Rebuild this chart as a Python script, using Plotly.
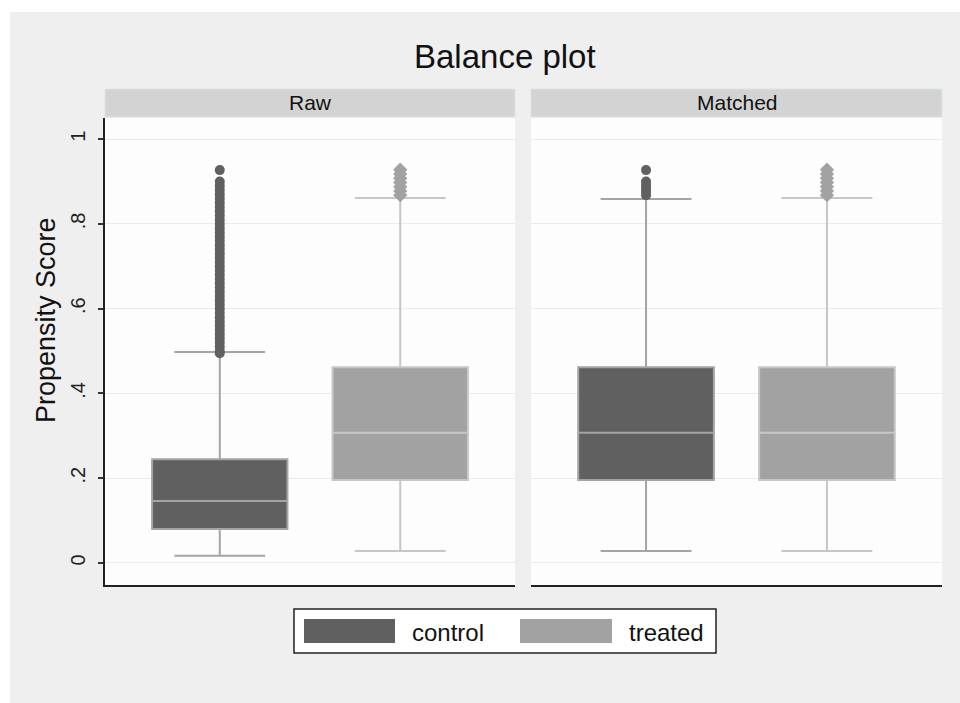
import plotly.graph_objects as go

# ---------------- data ----------------
groups = ["control", "treated"]
panels = ["Raw", "Matched"]

raw_lower = [0.017, 0.028]
raw_q1 = [0.080, 0.196]
raw_median = [0.146, 0.307]
raw_q3 = [0.245, 0.462]
raw_upper = [0.498, 0.861]

matched_lower = [0.028, 0.028]
matched_q1 = [0.196, 0.196]
matched_median = [0.307, 0.307]
matched_q3 = [0.462, 0.462]
matched_upper = [0.859, 0.861]

raw_control_out = [0.495, 0.50, 0.51, 0.52, 0.53, 0.54, 0.55, 0.56, 0.57, 0.58, 0.59,
                   0.60, 0.61, 0.62, 0.63, 0.64, 0.65, 0.66, 0.67, 0.68, 0.69,
                   0.70, 0.71, 0.72, 0.73, 0.74, 0.75, 0.76, 0.77, 0.78, 0.79,
                   0.80, 0.81, 0.82, 0.83, 0.84, 0.85, 0.86, 0.87, 0.88, 0.89,
                   0.90, 0.927]
raw_treated_out = [0.868, 0.878, 0.888, 0.898, 0.908, 0.918, 0.928]
matched_control_out = [0.868, 0.876, 0.884, 0.892, 0.900, 0.927]
matched_treated_out = [0.868, 0.878, 0.888, 0.898, 0.908, 0.918, 0.928]

y_ticks = [0, 0.2, 0.4, 0.6, 0.8, 1]
y_ticklabels = ["0", ".2", ".4", ".6", ".8", "1"]

# ---------------- styling ----------------
fill_colors = ["#606060", "#a2a2a2"]
line_colors = ["#a4a4a4", "#c6c6c6"]
out_colors = ["#606060", "#a2a2a2"]
out_symbols = ["circle", "diamond"]
FONT = "Liberation Sans, Arial, Helvetica, sans-serif"

W, H = 960, 703
# target page pixel positions of the plotting area
PL, PR, PT, PB = 105, 942, 118, 585
ML = PL
MR = W - PR
MT = PT
MB = H - PB
PW = W - ML - MR
PH = H - MT - MB


def px_x(px):
    return (px - PL) / PW


def px_y(py):
    return (PB - py) / PH


fig = go.Figure()

stats = {
    "Raw": (raw_lower, raw_q1, raw_median, raw_q3, raw_upper, [raw_control_out, raw_treated_out]),
    "Matched": (matched_lower, matched_q1, matched_median, matched_q3, matched_upper,
                [matched_control_out, matched_treated_out]),
}

for pi, panel in enumerate(panels):
    lo, q1, med, q3, up, outs = stats[panel]
    xa = "x" if pi == 0 else "x2"
    ya = "y" if pi == 0 else "y2"
    for gi, g in enumerate(groups):
        fig.add_trace(go.Box(
            x=[gi], lowerfence=[lo[gi]], q1=[q1[gi]], median=[med[gi]], q3=[q3[gi]],
            upperfence=[up[gi]], width=0.75, whiskerwidth=0.67,
            fillcolor=fill_colors[gi], line=dict(color=line_colors[gi], width=2),
            name=g, showlegend=False, boxpoints=False, xaxis=xa, yaxis=ya,
        ))
        fig.add_trace(go.Scatter(
            x=[gi] * len(outs[gi]), y=outs[gi], mode="markers",
            marker=dict(symbol=out_symbols[gi], size=10 if gi == 0 else 11,
                        color=out_colors[gi], line=dict(width=0)),
            showlegend=False, xaxis=xa, yaxis=ya, name=g,
        ))

xrange = [-0.636, 1.636]
yrange = [-0.052, 1.05]

common_x = dict(range=xrange, showticklabels=False, showgrid=False, zeroline=False,
                showline=True, linecolor="#222222", linewidth=1.5, ticks="", fixedrange=True)
fig.update_layout(
    xaxis=dict(domain=[0, (515 - PL) / PW], **common_x),
    xaxis2=dict(domain=[(531 - PL) / PW, 1], **common_x),
    yaxis=dict(range=yrange, tickvals=y_ticks, ticktext=y_ticklabels, tickangle=-90,
               ticks="outside", ticklen=5, tickwidth=1.5, tickcolor="#333333",
               showline=True, linecolor="#222222", linewidth=1.5,
               showgrid=True, gridcolor="#ebebeb", gridwidth=1, zeroline=False,
               tickfont=dict(family=FONT, size=20, color="#222222"),
               ticklabelstandoff=5),
    yaxis2=dict(range=yrange, tickvals=y_ticks, showticklabels=False, ticks="",
                showline=False, showgrid=True, gridcolor="#ebebeb", gridwidth=1,
                zeroline=False, anchor="x2", matches="y"),
)

shapes = []
# white outer margins (left and top strips)
shapes.append(dict(type="rect", xref="paper", yref="paper", x0=px_x(-20), x1=px_x(10),
                   y0=px_y(H + 20), y1=px_y(-20), fillcolor="white", line=dict(width=0),
                   layer="below"))
shapes.append(dict(type="rect", xref="paper", yref="paper", x0=px_x(-20), x1=px_x(W + 20),
                   y0=px_y(12), y1=px_y(-20), fillcolor="white", line=dict(width=0),
                   layer="below"))
# strip headers
for (x0, x1) in [(105, 515), (531, 942)]:
    shapes.append(dict(type="rect", xref="paper", yref="paper", x0=px_x(x0), x1=px_x(x1),
                       y0=px_y(117), y1=px_y(89), fillcolor="#d3d3d3",
                       line=dict(color="#d8e6ea", width=1)))
# legend box
shapes.append(dict(type="rect", xref="paper", yref="paper", x0=px_x(294), x1=px_x(716),
                   y0=px_y(653), y1=px_y(609), fillcolor="white",
                   line=dict(color="#222222", width=1.5)))
for gi, (sx0, sx1) in enumerate([(304, 395), (520, 612)]):
    shapes.append(dict(type="rect", xref="paper", yref="paper", x0=px_x(sx0), x1=px_x(sx1),
                       y0=px_y(643), y1=px_y(619), fillcolor=fill_colors[gi],
                       line=dict(width=0)))

annotations = []
annotations.append(dict(text="Balance plot", xref="paper", yref="paper", x=px_x(505),
                        y=px_y(57), xanchor="center", yanchor="middle", showarrow=False,
                        font=dict(family=FONT, size=33, color="#111111")))
for panel, cx in zip(panels, [310, 737]):
    annotations.append(dict(text=panel, xref="paper", yref="paper", x=px_x(cx), y=px_y(103),
                            xanchor="center", yanchor="middle", showarrow=False,
                            font=dict(family=FONT, size=21, color="#111111")))
annotations.append(dict(text="Propensity Score", xref="paper", yref="paper", x=px_x(46),
                        y=px_y(320), xanchor="center", yanchor="middle", textangle=-90,
                        showarrow=False, font=dict(family=FONT, size=27, color="#111111")))
for g, tx in zip(groups, [410, 627]):
    annotations.append(dict(text=g, xref="paper", yref="paper", x=px_x(tx), y=px_y(632),
                            xanchor="left", yanchor="middle", showarrow=False,
                            font=dict(family=FONT, size=24, color="#111111")))

fig.update_layout(
    width=W, height=H,
    margin=dict(l=ML, r=MR, t=MT, b=MB, autoexpand=False),
    paper_bgcolor="#efefef", plot_bgcolor="#fdfdfd",
    shapes=shapes, annotations=annotations, showlegend=False,
    font=dict(family=FONT),
)

fig.write_html("out.html", config={"displayModeBar": False},
               post_script="document.body.style.margin='0';")
